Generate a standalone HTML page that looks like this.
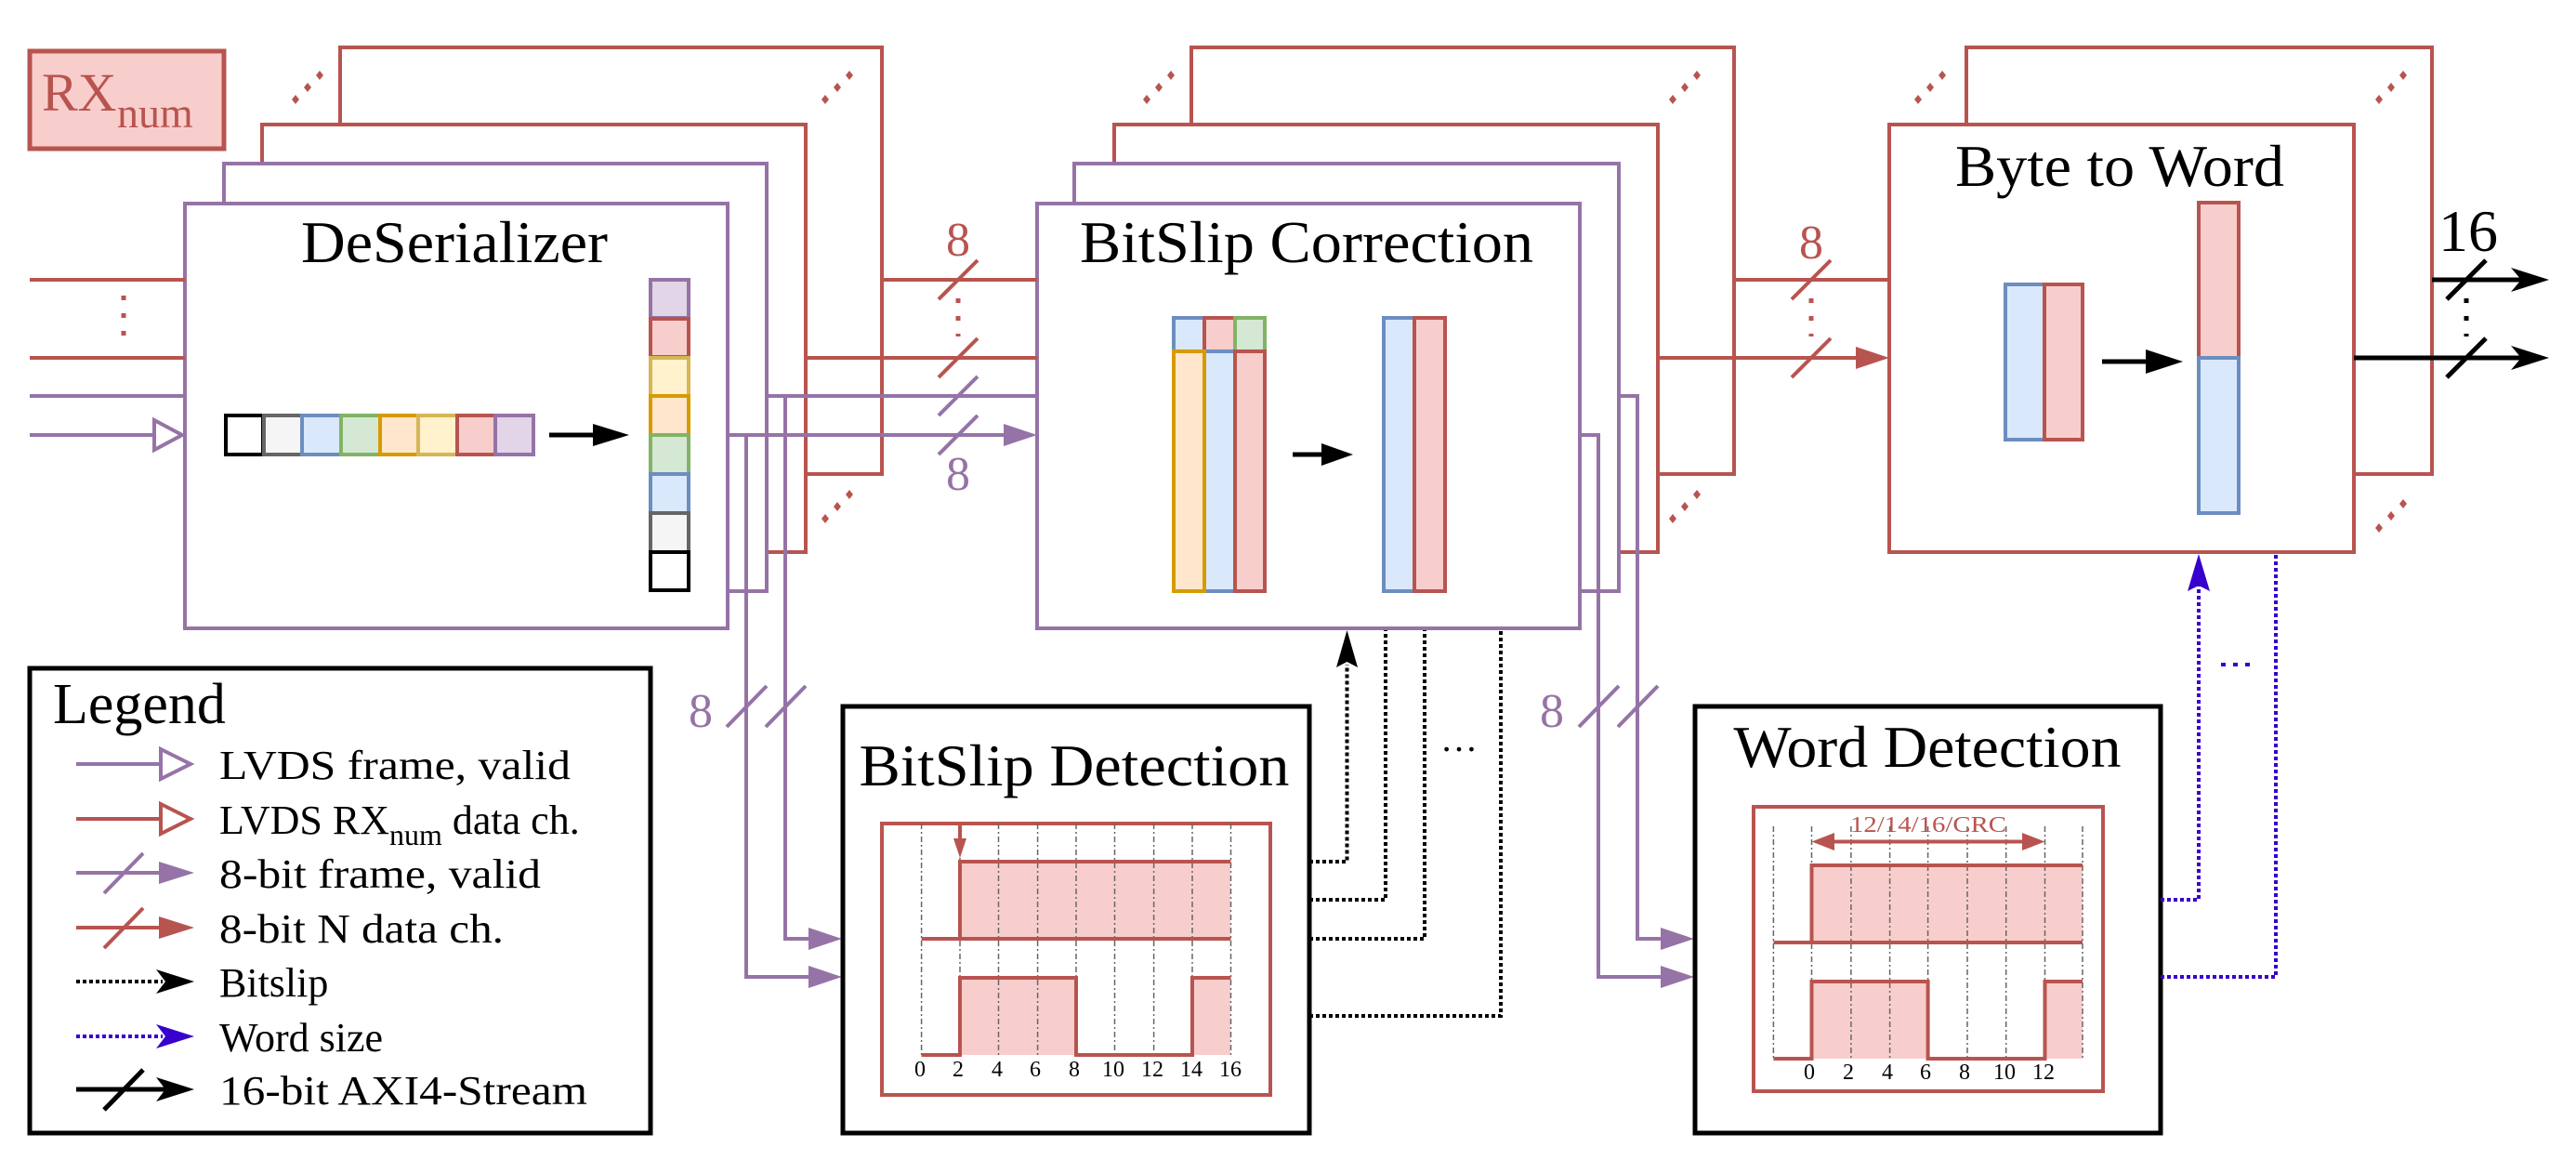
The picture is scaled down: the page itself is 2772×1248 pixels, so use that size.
<!DOCTYPE html>
<html><head><meta charset="utf-8"><style>
html,body{margin:0;padding:0;background:#fff;}
svg{display:block;}
text{font-family:"Liberation Serif",serif;}
</style></head><body>
<svg width="2772" height="1248" viewBox="0 0 2772 1248" xmlns="http://www.w3.org/2000/svg">
<defs>
<g id="dots"><polygon points="0,-5 4,0 0,5 -4,0" fill="#b85450"/><polygon points="13,-18 17,-13 13,-8 9,-13" fill="#b85450"/><polygon points="26,-31 30,-26 26,-21 22,-26" fill="#b85450"/></g>
</defs>
<rect width="2772" height="1248" fill="#fff"/>

<!-- RXnum -->
<rect x="32" y="55" width="209" height="105" fill="#f8cecc" stroke="#b85450" stroke-width="5"/>
<text x="45" y="119" font-size="58" fill="#b85450">RX</text>
<text x="126" y="137" font-size="46" fill="#b85450">num</text>

<g stroke-width="4" fill="#fff">
<!-- DeSerializer stack -->
<rect x="366" y="51" width="583" height="459" stroke="#b85450"/>
<rect x="282" y="134" width="585" height="460" stroke="#b85450"/>
<rect x="241" y="176" width="584" height="460" stroke="#9673a6"/>
<rect x="199" y="219" width="584" height="457" stroke="#9673a6"/>
<!-- BitSlip Correction stack -->
<rect x="1282" y="51" width="584" height="459" stroke="#b85450"/>
<rect x="1199" y="134" width="585" height="460" stroke="#b85450"/>
<rect x="1156" y="176" width="586" height="460" stroke="#9673a6"/>
<rect x="1116" y="219" width="584" height="457" stroke="#9673a6"/>
<!-- Byte to word -->
<rect x="2116" y="51" width="501" height="459" stroke="#b85450"/>
<rect x="2033" y="134" width="500" height="460" stroke="#b85450"/>
</g>

<use href="#dots" x="318" y="107"/>
<use href="#dots" x="888" y="107"/>
<use href="#dots" x="888" y="558"/>
<use href="#dots" x="1234" y="107"/>
<use href="#dots" x="1800" y="107"/>
<use href="#dots" x="1800" y="558"/>
<use href="#dots" x="2064" y="107"/>
<use href="#dots" x="2560" y="107"/>
<use href="#dots" x="2560" y="568"/>

<text x="489" y="282" font-size="64" text-anchor="middle" textLength="330" lengthAdjust="spacingAndGlyphs">DeSerializer</text>
<text x="1406" y="282" font-size="64" text-anchor="middle" textLength="488" lengthAdjust="spacingAndGlyphs">BitSlip Correction</text>
<text x="2281" y="200" font-size="64" text-anchor="middle" textLength="354" lengthAdjust="spacingAndGlyphs">Byte to Word</text>

<!-- inputs -->
<g stroke-width="4" fill="none">
<line x1="32" y1="301" x2="199" y2="301" stroke="#b85450"/>
<line x1="32" y1="385" x2="199" y2="385" stroke="#b85450"/>
<line x1="133" y1="318" x2="133" y2="362" stroke="#b85450" stroke-width="5" stroke-dasharray="5 14"/>
<line x1="32" y1="426" x2="199" y2="426" stroke="#9673a6"/>
<line x1="32" y1="468" x2="166" y2="468" stroke="#9673a6"/>
<polygon points="166,452 196,468 166,484" stroke="#9673a6" fill="#fff"/>
</g>

<!-- byte row -->
<g stroke-width="4">
<rect x="243" y="447" width="40" height="42" fill="#fff" stroke="#000"/>
<rect x="284" y="447" width="41" height="42" fill="#f5f5f5" stroke="#666"/>
<rect x="325" y="447" width="42" height="42" fill="#dae8fc" stroke="#6c8ebf"/>
<rect x="367" y="447" width="42" height="42" fill="#d5e8d4" stroke="#82b366"/>
<rect x="409" y="447" width="41" height="42" fill="#ffe6cc" stroke="#d79b00"/>
<rect x="450" y="447" width="42" height="42" fill="#fff2cc" stroke="#d6b656"/>
<rect x="492" y="447" width="41" height="42" fill="#f8cecc" stroke="#b85450"/>
<rect x="533" y="447" width="41" height="42" fill="#e1d5e7" stroke="#9673a6"/>
<!-- column -->
<rect x="700" y="301" width="41" height="41" fill="#e1d5e7" stroke="#9673a6"/>
<rect x="700" y="343" width="41" height="41" fill="#f8cecc" stroke="#b85450"/>
<rect x="700" y="385" width="41" height="41" fill="#fff2cc" stroke="#d6b656"/>
<rect x="700" y="426" width="41" height="42" fill="#ffe6cc" stroke="#d79b00"/>
<rect x="700" y="468" width="41" height="42" fill="#d5e8d4" stroke="#82b366"/>
<rect x="700" y="510" width="41" height="42" fill="#dae8fc" stroke="#6c8ebf"/>
<rect x="700" y="552" width="41" height="42" fill="#f5f5f5" stroke="#666"/>
<rect x="700" y="594" width="41" height="41" fill="#fff" stroke="#000"/>
</g>
<line x1="591" y1="468" x2="650" y2="468" stroke="#000" stroke-width="5"/>
<polygon points="638,456 677,468 638,480" fill="#000"/>

<!-- BitSlip correction internals -->
<g stroke-width="4">
<rect x="1263" y="342" width="33" height="36" fill="#dae8fc" stroke="#6c8ebf"/>
<rect x="1296" y="342" width="33" height="36" fill="#f8cecc" stroke="#b85450"/>
<rect x="1329" y="342" width="32" height="36" fill="#d5e8d4" stroke="#82b366"/>
<rect x="1296" y="378" width="33" height="258" fill="#dae8fc" stroke="#6c8ebf"/>
<rect x="1329" y="378" width="32" height="258" fill="#f8cecc" stroke="#b85450"/>
<rect x="1263" y="378" width="33" height="258" fill="#ffe6cc" stroke="#d79b00"/>
<rect x="1489" y="342" width="33" height="294" fill="#dae8fc" stroke="#6c8ebf"/>
<rect x="1522" y="342" width="33" height="294" fill="#f8cecc" stroke="#b85450"/>
</g>
<line x1="1391" y1="489" x2="1430" y2="489" stroke="#000" stroke-width="5"/>
<polygon points="1422,477 1456,489 1422,501" fill="#000"/>

<!-- Byte to word internals -->
<g stroke-width="4">
<rect x="2158" y="306" width="42" height="167" fill="#dae8fc" stroke="#6c8ebf"/>
<rect x="2200" y="306" width="41" height="167" fill="#f8cecc" stroke="#b85450"/>
<rect x="2366" y="218" width="43" height="167" fill="#f8cecc" stroke="#b85450"/>
<rect x="2366" y="385" width="43" height="167" fill="#dae8fc" stroke="#6c8ebf"/>
</g>
<line x1="2262" y1="389" x2="2320" y2="389" stroke="#000" stroke-width="5"/>
<polygon points="2309,376 2349,389 2309,402" fill="#000"/>

<!-- DeSerializer -> BitSlip Correction -->
<g stroke-width="4" fill="none">
<line x1="949" y1="301" x2="1116" y2="301" stroke="#b85450"/>
<line x1="867" y1="385" x2="1116" y2="385" stroke="#b85450"/>
<line x1="825" y1="426" x2="1116" y2="426" stroke="#9673a6"/>
<line x1="783" y1="468" x2="1082" y2="468" stroke="#9673a6"/>
<line x1="1031" y1="321" x2="1031" y2="362" stroke="#b85450" stroke-width="5" stroke-dasharray="5 14"/>
<line x1="1010" y1="322" x2="1052" y2="280" stroke="#b85450"/>
<line x1="1010" y1="406" x2="1052" y2="364" stroke="#b85450"/>
<line x1="1010" y1="447" x2="1052" y2="405" stroke="#9673a6"/>
<line x1="1010" y1="489" x2="1052" y2="447" stroke="#9673a6"/>
<!-- verticals to detection -->
<polyline points="803,468 803,1051 872,1051" stroke="#9673a6"/>
<polyline points="845,426 845,1010 872,1010" stroke="#9673a6"/>
<line x1="782" y1="782" x2="825" y2="738" stroke="#9673a6"/>
<line x1="824" y1="782" x2="867" y2="738" stroke="#9673a6"/>
<!-- BitSlip correction outputs -->
<line x1="1866" y1="301" x2="2033" y2="301" stroke="#b85450"/>
<line x1="1784" y1="385" x2="2000" y2="385" stroke="#b85450"/>
<line x1="1949" y1="321" x2="1949" y2="362" stroke="#b85450" stroke-width="5" stroke-dasharray="5 14"/>
<line x1="1928" y1="322" x2="1970" y2="280" stroke="#b85450"/>
<line x1="1928" y1="406" x2="1970" y2="364" stroke="#b85450"/>
<polyline points="1700,468 1720,468 1720,1051 1790,1051" stroke="#9673a6"/>
<polyline points="1742,426 1762,426 1762,1010 1790,1010" stroke="#9673a6"/>
<line x1="1699" y1="782" x2="1742" y2="738" stroke="#9673a6"/>
<line x1="1741" y1="782" x2="1784" y2="738" stroke="#9673a6"/>
<!-- outputs 16 -->
<line x1="2617" y1="301" x2="2730" y2="301" stroke="#000" stroke-width="5"/>
<line x1="2533" y1="385" x2="2730" y2="385" stroke="#000" stroke-width="5"/>
<line x1="2654" y1="321" x2="2654" y2="362" stroke="#000" stroke-width="5" stroke-dasharray="5 14"/>
<line x1="2633" y1="322" x2="2675" y2="280" stroke="#000" stroke-width="5"/>
<line x1="2633" y1="406" x2="2675" y2="364" stroke="#000" stroke-width="5"/>
</g>
<polygon points="1080,456 1116,468 1080,480" fill="#9673a6"/>
<polygon points="1997,373 2033,385 1997,397" fill="#b85450"/>
<polygon points="870,1039 906,1051 870,1063" fill="#9673a6"/>
<polygon points="870,998 906,1010 870,1022" fill="#9673a6"/>
<polygon points="1787,1039 1823,1051 1787,1063" fill="#9673a6"/>
<polygon points="1787,998 1823,1010 1787,1022" fill="#9673a6"/>
<polygon points="2743,301 2702,288 2713,301 2702,314" fill="#000"/>
<polygon points="2743,385 2702,372 2713,385 2702,398" fill="#000"/>

<text x="1031" y="275" font-size="52" fill="#b85450" text-anchor="middle">8</text>
<text x="1031" y="527" font-size="52" fill="#9673a6" text-anchor="middle">8</text>
<text x="1949" y="278" font-size="52" fill="#b85450" text-anchor="middle">8</text>
<text x="2656" y="270" font-size="64" fill="#000" text-anchor="middle">16</text>
<text x="754" y="782" font-size="52" fill="#9673a6" text-anchor="middle">8</text>
<text x="1670" y="782" font-size="52" fill="#9673a6" text-anchor="middle">8</text>

<!-- BitSlip Detection -->
<rect x="907" y="760" width="502" height="459" fill="#fff" stroke="#000" stroke-width="5"/>
<text x="1156" y="845" font-size="64" text-anchor="middle" textLength="463" lengthAdjust="spacingAndGlyphs">BitSlip Detection</text>
<rect x="949" y="886" width="418" height="292" fill="none" stroke="#b85450" stroke-width="4"/>
<rect x="1033" y="927" width="291" height="83" fill="#f8cecc"/>
<rect x="1033" y="1052" width="125" height="83" fill="#f8cecc"/>
<rect x="1283" y="1052" width="41" height="83" fill="#f8cecc"/>
<g stroke="#666" stroke-width="1.5" stroke-dasharray="6 3 2 3">
<line x1="991.6" y1="886" x2="991.6" y2="1135"/><line x1="1033" y1="886" x2="1033" y2="1135"/><line x1="1074.5" y1="886" x2="1074.5" y2="1135"/><line x1="1116.6" y1="886" x2="1116.6" y2="1135"/><line x1="1158" y1="886" x2="1158" y2="1135"/><line x1="1199.5" y1="886" x2="1199.5" y2="1135"/><line x1="1241.6" y1="886" x2="1241.6" y2="1135"/><line x1="1283" y1="886" x2="1283" y2="1135"/><line x1="1324.5" y1="886" x2="1324.5" y2="1135"/>
</g>
<g stroke="#b85450" stroke-width="4" fill="none">
<polyline points="991.6,1010 1033,1010 1033,927 1324.5,927"/>
<line x1="1033" y1="1010" x2="1324.5" y2="1010"/>
<polyline points="991.6,1135 1033,1135 1033,1052 1158,1052 1158,1135 1283,1135 1283,1052 1324.5,1052"/>
<line x1="1033" y1="886" x2="1033" y2="905"/>
</g>
<polygon points="1026,902 1040,902 1033,923" fill="#b85450"/>
<g font-size="24" text-anchor="middle">
<text x="990" y="1158">0</text><text x="1031" y="1158">2</text><text x="1073" y="1158">4</text><text x="1114" y="1158">6</text><text x="1156" y="1158">8</text><text x="1198" y="1158">10</text><text x="1240" y="1158">12</text><text x="1282" y="1158">14</text><text x="1324" y="1158">16</text>
</g>
<!-- bitslip dotted -->
<g stroke="#000" stroke-width="4" fill="none" stroke-dasharray="4 3">
<polyline points="1409,927 1449.5,927 1449.5,715"/>
<polyline points="1409,968 1491,968 1491,678"/>
<polyline points="1409,1010 1533,1010 1533,678"/>
<polyline points="1409,1093 1615,1093 1615,678"/>
</g>
<polygon points="1449.5,678 1438,718 1449.5,712 1461,718" fill="#000"/>
<text x="1570" y="808" font-size="40" text-anchor="middle">…</text>

<!-- Word Detection -->
<rect x="1824" y="760" width="501" height="459" fill="#fff" stroke="#000" stroke-width="5"/>
<text x="2074" y="825" font-size="64" text-anchor="middle" textLength="417" lengthAdjust="spacingAndGlyphs">Word Detection</text>
<rect x="1887" y="868" width="376" height="306" fill="none" stroke="#b85450" stroke-width="4"/>
<rect x="1949.5" y="931" width="291.5" height="83" fill="#f8cecc"/>
<rect x="1949.5" y="1056" width="125" height="83" fill="#f8cecc"/>
<rect x="2200.5" y="1056" width="40.5" height="83" fill="#f8cecc"/>
<g stroke="#666" stroke-width="1.5" stroke-dasharray="6 3 2 3">
<line x1="1908.4" y1="889" x2="1908.4" y2="1139"/><line x1="1949.5" y1="889" x2="1949.5" y2="1139"/><line x1="1991.9" y1="889" x2="1991.9" y2="1139"/><line x1="2033.6" y1="889" x2="2033.6" y2="1139"/><line x1="2074.6" y1="889" x2="2074.6" y2="1139"/><line x1="2117" y1="889" x2="2117" y2="1139"/><line x1="2158.7" y1="889" x2="2158.7" y2="1139"/><line x1="2200.5" y1="889" x2="2200.5" y2="1139"/><line x1="2241" y1="889" x2="2241" y2="1139"/>
</g>
<g stroke="#b85450" stroke-width="4" fill="none">
<polyline points="1908.4,1014 1949.5,1014 1949.5,931 2241,931"/>
<line x1="1949.5" y1="1014" x2="2241" y2="1014"/>
<polyline points="1908.4,1139 1949.5,1139 1949.5,1056 2074.6,1056 2074.6,1139 2200.5,1139 2200.5,1056 2241,1056"/>
<line x1="1970" y1="905.5" x2="2180" y2="905.5"/>
</g>
<polygon points="1949.5,905.5 1974,896 1974,915" fill="#b85450"/>
<polygon points="2200.5,905.5 2176,896 2176,915" fill="#b85450"/>
<text x="2075" y="895" font-size="24" fill="#b85450" text-anchor="middle" textLength="168" lengthAdjust="spacingAndGlyphs">12/14/16/CRC</text>
<g font-size="24" text-anchor="middle">
<text x="1947" y="1161">0</text><text x="1989" y="1161">2</text><text x="2031" y="1161">4</text><text x="2072" y="1161">6</text><text x="2114" y="1161">8</text><text x="2157" y="1161">10</text><text x="2199" y="1161">12</text>
</g>
<g stroke="#3700cc" stroke-width="4" fill="none" stroke-dasharray="4 3">
<polyline points="2325,968 2366,968 2366,630"/>
<polyline points="2325,1051 2449,1051 2449,596"/>
<line x1="2390" y1="715" x2="2425" y2="715" stroke-dasharray="5 8"/>
</g>
<polygon points="2366,596 2354,636 2366,630 2378,636" fill="#3700cc"/>

<!-- Legend -->
<rect x="32" y="719" width="668" height="500" fill="#fff" stroke="#000" stroke-width="5"/>
<text x="57" y="778" font-size="62">Legend</text>
<g stroke-width="4" fill="none">
<line x1="82" y1="822" x2="173" y2="822" stroke="#9673a6"/>
<polygon points="173,806 205,822 173,838" stroke="#9673a6" fill="#fff"/>
<line x1="82" y1="881" x2="173" y2="881" stroke="#b85450"/>
<polygon points="173,865 205,881 173,897" stroke="#b85450" fill="#fff"/>
<line x1="82" y1="939" x2="175" y2="939" stroke="#9673a6"/>
<line x1="112" y1="961" x2="154" y2="918" stroke="#9673a6"/>
<line x1="82" y1="998" x2="175" y2="998" stroke="#b85450"/>
<line x1="112" y1="1020" x2="154" y2="977" stroke="#b85450"/>
<line x1="82" y1="1056" x2="175" y2="1056" stroke="#000" stroke-dasharray="4 3"/>
<line x1="82" y1="1115" x2="175" y2="1115" stroke="#3700cc" stroke-dasharray="4 3"/>
<line x1="82" y1="1172" x2="185" y2="1172" stroke="#000" stroke-width="5"/>
<line x1="112" y1="1194" x2="154" y2="1151" stroke="#000" stroke-width="5"/>
</g>
<polygon points="171,927 209,939 171,951" fill="#9673a6"/>
<polygon points="171,986 209,998 171,1010" fill="#b85450"/>
<polygon points="168,1043 209,1056 168,1069 178,1056" fill="#000"/>
<polygon points="168,1102 209,1115 168,1128 178,1115" fill="#3700cc"/>
<polygon points="168,1159 209,1172 168,1185 178,1172" fill="#000"/>
<g font-size="44">
<text x="236" y="838" textLength="378" lengthAdjust="spacingAndGlyphs">LVDS frame, valid</text>
<text x="236" y="897">LVDS RX<tspan font-size="32" dy="12">num</tspan><tspan dy="-12"> data ch.</tspan></text>
<text x="236" y="955" textLength="346" lengthAdjust="spacingAndGlyphs">8-bit frame, valid</text>
<text x="236" y="1014" textLength="306" lengthAdjust="spacingAndGlyphs">8-bit N data ch.</text>
<text x="236" y="1072">Bitslip</text>
<text x="236" y="1131">Word size</text>
<text x="236" y="1188" textLength="396" lengthAdjust="spacingAndGlyphs">16-bit AXI4-Stream</text>
</g>
</svg>
</body></html>
